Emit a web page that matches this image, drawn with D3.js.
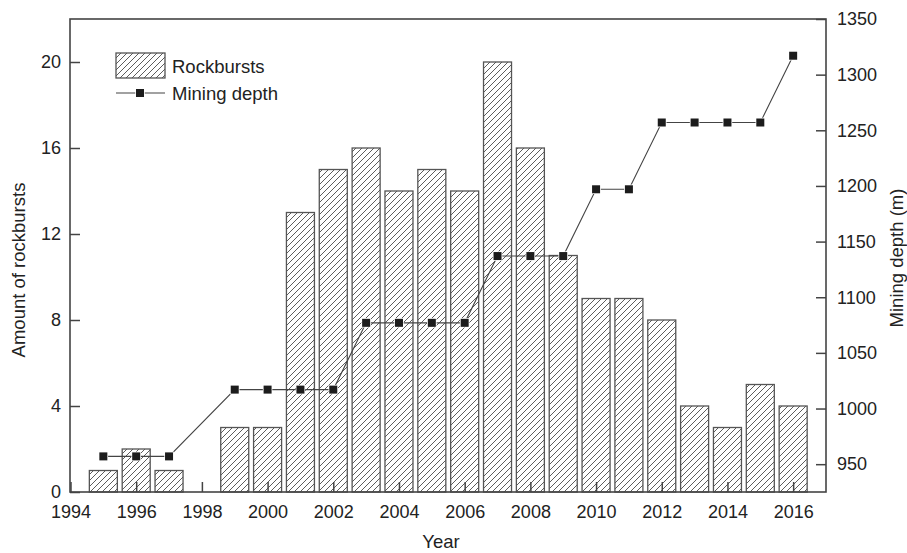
<!DOCTYPE html>
<html lang="en">
  <head>
    <meta charset="UTF-8" />
    <title>Rockbursts and mining depth</title>
    <style>
      body {
        margin: 0;
        background: #fff;
      }
      svg text {
        font-family: "Liberation Sans", Arial, sans-serif;
        fill: #222;
      }
    </style>
  </head>
  <body>
    <svg id="svg" width="907" height="553"></svg>
    <script src="https://cdn.jsdelivr.net/npm/d3@7"></script>
    <script>
      // Data
      const years = [1995, 1996, 1997, 1998, 1999, 2000, 2001, 2002, 2003, 2004, 2005,
        2006, 2007, 2008, 2009, 2010, 2011, 2012, 2013, 2014, 2015, 2016];
      const rockbursts = [1, 2, 1, 0, 3, 3, 13, 15, 16, 14, 15, 14, 20, 16, 11, 9, 9, 8, 4, 3, 5, 4];

      const depthYears = [1995, 1996, 1997, 1999, 2000, 2001, 2002, 2003, 2004, 2005, 2006,
        2007, 2008, 2009, 2010, 2011, 2012, 2013, 2014, 2015, 2016];
      const depths = [957, 957, 957, 1017, 1017, 1017, 1017, 1077, 1077, 1077, 1077,
        1137, 1137, 1137, 1197, 1197, 1257, 1257, 1257, 1257, 1317];

      const xTicks = d3.range(1994, 2017, 2);
      const leftTicks = [0, 4, 8, 12, 16, 20];
      const rightTicks = d3.range(950, 1351, 50);

      // Plot area
      const plot = { left: 70, right: 826, top: 19, bottom: 492 };
      const fontSize = 18;
      const titleSize = 18.5;
      const axisColor = "#444";

      const svg = d3.select("#svg");

      const x = d3.scaleLinear().domain([1994, 2017]).range([plot.left + 0.5, plot.right]);
      const yL = d3.scaleLinear().domain([0, 22]).range([plot.bottom, plot.top]);
      const yR = d3.scaleLinear().domain([925, 1350]).range([plot.bottom, plot.top]);

      // hatch pattern
      const defs = svg.append("defs");
      defs
        .append("pattern")
        .attr("id", "hatch")
        .attr("patternUnits", "userSpaceOnUse")
        .attr("width", 6)
        .attr("height", 6)
        .append("path")
        .attr("d", "M-1,7 L7,-1 M-4,4 L4,-4 M2,10 L10,2")
        .attr("stroke", "#333")
        .attr("stroke-width", 0.8);

      const barW = 28;

      // Bars
      const barData = years.map((d, i) => ({ year: d, value: rockbursts[i] })).filter((d) => d.value > 0);
      svg
        .append("g")
        .selectAll("rect")
        .data(barData)
        .join("rect")
        .attr("x", (d) => x(d.year) - barW / 2)
        .attr("y", (d) => yL(d.value))
        .attr("width", barW)
        .attr("height", (d) => plot.bottom - yL(d.value))
        .attr("fill", "url(#hatch)")
        .attr("stroke", "#555")
        .attr("stroke-width", 1.3);

      // Mining depth line
      const depthData = depthYears.map((d, i) => ({ year: d, value: depths[i] }));
      const line = d3
        .line()
        .x((d) => x(d.year))
        .y((d) => yR(d.value));

      svg
        .append("path")
        .datum(depthData)
        .attr("d", line)
        .attr("fill", "none")
        .attr("stroke", "#444")
        .attr("stroke-width", 1.1);

      const mk = 8;
      svg
        .append("g")
        .selectAll("rect")
        .data(depthData)
        .join("rect")
        .attr("x", (d) => x(d.year) - mk / 2)
        .attr("y", (d) => yR(d.value) - mk / 2)
        .attr("width", mk)
        .attr("height", mk)
        .attr("fill", "#1c1c1c")
        .attr("stroke", "#fff")
        .attr("stroke-width", 1.5)
        .attr("paint-order", "stroke");

      // Axes (ticks inward)
      const styleAxis = (g) => {
        g.select(".domain").remove();
        g.selectAll("line").attr("stroke", axisColor).attr("stroke-width", 1.5);
        g.selectAll("text").style("font-size", fontSize + "px").attr("fill", "#222");
      };

      svg
        .append("g")
        .attr("transform", `translate(0,${plot.bottom})`)
        .call(d3.axisBottom(x).tickValues(xTicks).tickFormat(d3.format("d")).tickSizeInner(-10).tickSizeOuter(0).tickPadding(13))
        .call(styleAxis);

      svg
        .append("g")
        .attr("transform", `translate(${plot.left},0)`)
        .call(d3.axisLeft(yL).tickValues(leftTicks).tickSizeInner(-10).tickSizeOuter(0).tickPadding(9))
        .call(styleAxis);

      svg
        .append("g")
        .attr("transform", `translate(${plot.right},0)`)
        .call(d3.axisRight(yR).tickValues(rightTicks).tickFormat(d3.format("d")).tickSizeInner(-10).tickSizeOuter(0).tickPadding(11))
        .call(styleAxis);

      // frame
      svg
        .append("rect")
        .attr("x", plot.left)
        .attr("y", plot.top)
        .attr("width", plot.right - plot.left)
        .attr("height", plot.bottom - plot.top)
        .attr("fill", "none")
        .attr("stroke", axisColor)
        .attr("stroke-width", 1.6);

      // Axis titles
      svg
        .append("text")
        .attr("x", 441)
        .attr("y", 548)
        .attr("text-anchor", "middle")
        .style("font-size", titleSize + "px")
        .text("Year");

      svg
        .append("text")
        .attr("transform", "translate(25,270) rotate(-90)")
        .attr("text-anchor", "middle")
        .style("font-size", titleSize + "px")
        .text("Amount of rockbursts");

      svg
        .append("text")
        .attr("transform", "translate(903,258) rotate(-90)")
        .attr("text-anchor", "middle")
        .style("font-size", titleSize + "px")
        .text("Mining depth (m)");

      // Legend
      const legend = svg.append("g");
      legend
        .append("rect")
        .attr("x", 116)
        .attr("y", 53)
        .attr("width", 49)
        .attr("height", 25)
        .attr("fill", "url(#hatch)")
        .attr("stroke", "#555")
        .attr("stroke-width", 1.3);
      legend
        .append("text")
        .attr("x", 172)
        .attr("y", 72.5)
        .style("font-size", titleSize + "px")
        .text("Rockbursts");
      legend
        .append("line")
        .attr("x1", 116)
        .attr("x2", 165)
        .attr("y1", 93)
        .attr("y2", 93)
        .attr("stroke", "#444")
        .attr("stroke-width", 1.1);
      legend
        .append("rect")
        .attr("x", 140 - mk / 2)
        .attr("y", 93 - mk / 2)
        .attr("width", mk)
        .attr("height", mk)
        .attr("fill", "#1c1c1c")
        .attr("stroke", "#fff")
        .attr("stroke-width", 1.5)
        .attr("paint-order", "stroke");
      legend
        .append("text")
        .attr("x", 172)
        .attr("y", 99.5)
        .style("font-size", titleSize + "px")
        .text("Mining depth");
    </script>
  </body>
</html>
